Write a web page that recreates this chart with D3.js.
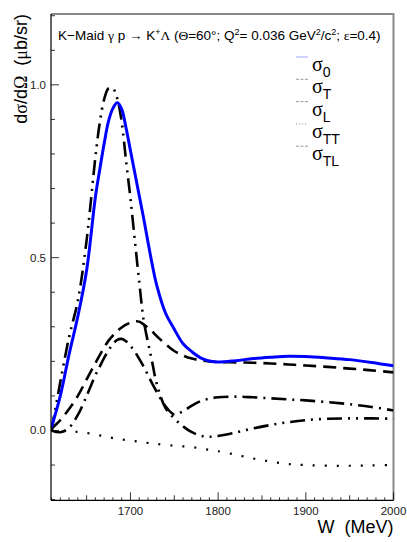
<!DOCTYPE html>
<html>
<head>
<meta charset="utf-8">
<script src="https://cdn.jsdelivr.net/npm/d3@7"></script>
<style>
  body { margin: 0; background: #fff; }
  text { font-family: "Liberation Sans", Arial, sans-serif; }
  .greek { font-family: "Liberation Serif", "DejaVu Serif", serif; }
</style>
</head>
<body>
<div id="chart"></div>
<script>
// W grid (MeV) shared by all curves
const W = [1610, 1620, 1630, 1640, 1650, 1660, 1665, 1670, 1675, 1680, 1685, 1690, 1695, 1700,
  1705, 1710, 1715, 1720, 1725, 1730, 1740, 1750, 1760, 1770, 1780, 1790, 1800,
  1820, 1840, 1860, 1880, 1900, 1925, 1950, 1975, 2000];

const sigma0 = [0.01, 0.10, 0.22, 0.33, 0.463, 0.675, 0.755, 0.83, 0.895, 0.932, 0.948, 0.93, 0.875, 0.81,
  0.745, 0.68, 0.615, 0.545, 0.478, 0.42, 0.34, 0.293, 0.251, 0.228, 0.21, 0.201, 0.198,
  0.202, 0.208, 0.212, 0.215, 0.214, 0.21, 0.205, 0.197, 0.187];

const sigmaT = [0.005, 0.03, 0.062, 0.1, 0.148, 0.195, 0.218, 0.24, 0.26, 0.275, 0.288, 0.298, 0.306, 0.312,
  0.316, 0.315, 0.307, 0.297, 0.286, 0.273, 0.25, 0.23, 0.217, 0.208, 0.203, 0.2, 0.198,
  0.197, 0.196, 0.194, 0.191, 0.188, 0.184, 0.179, 0.174, 0.168];

const sigmaL = [0.0, -0.005, 0.008, 0.045, 0.1, 0.16, 0.185, 0.21, 0.232, 0.25, 0.262, 0.265, 0.258, 0.245,
  0.228, 0.207, 0.185, 0.16, 0.135, 0.112, 0.07, 0.046, 0.056, 0.072, 0.085, 0.092, 0.096,
  0.098, 0.096, 0.093, 0.09, 0.087, 0.082, 0.076, 0.068, 0.058];

const sigmaTT = [0.0, -0.001, -0.003, -0.004, -0.007, -0.012, -0.014, -0.017, -0.019, -0.022, -0.024, -0.026, -0.028, -0.03,
  -0.031, -0.033, -0.035, -0.036, -0.038, -0.039, -0.042, -0.044, -0.046, -0.048, -0.052, -0.056, -0.06,
  -0.07, -0.081, -0.09, -0.097, -0.1, -0.102, -0.102, -0.101, -0.1];

const sigmaTL = [0.0, 0.14, 0.27, 0.375, 0.55, 0.79, 0.89, 0.958, 0.99, 0.99, 0.96, 0.893, 0.78, 0.672,
  0.55, 0.43, 0.32, 0.255, 0.195, 0.135, 0.065, 0.035, 0.012, -0.005, -0.015, -0.018, -0.016,
  -0.006, 0.006, 0.016, 0.024, 0.03, 0.034, 0.035, 0.035, 0.034];

const seriesNames = ["0", "T", "L", "TT", "TL"];
const xTicks = [1700, 1800, 1900, 2000];
const yTicks = [0.0, 0.5, 1.0];

const width = 407, height = 542;
const margin = {top: 14, right: 13.5, bottom: 41.7, left: 51};

const svg = d3.select("#chart").append("svg")
    .attr("width", width)
    .attr("height", height);

const x = d3.scaleLinear()
    .domain([1609.4, 2000])
    .range([margin.left, width - margin.right]);

const y = d3.scaleLinear()
    .domain([-0.202, 1.205])
    .range([height - margin.bottom, margin.top]);

const styles = [
  {data: sigma0, color: "#0000ff", width: 3, dash: null},
  {data: sigmaT, color: "#000", width: 2.6, dash: "13,7"},
  {data: sigmaL, color: "#000", width: 2.6, dash: "15,6,2,6"},
  {data: sigmaTT, color: "#000", width: 2.2, dash: "2,10"},
  {data: sigmaTL, color: "#000", width: 2.6, dash: "15,6,2,6,2,6"}
];

svg.append("clipPath").attr("id", "frame")
  .append("rect")
    .attr("x", margin.left)
    .attr("y", margin.top)
    .attr("width", width - margin.left - margin.right)
    .attr("height", height - margin.top - margin.bottom);

// frame (top and right edges are grey)
svg.append("path")
    .attr("d", `M${x(1609.4)},${y(1.205)}H${x(2000)}V${y(-0.202)}`)
    .attr("fill", "none")
    .attr("stroke", "#8a8a8a")
    .attr("stroke-width", 2);

const line = d3.line()
    .x(d => x(d[0]))
    .y(d => y(d[1]))
    .curve(d3.curveCatmullRom);

// draw in reverse so the blue curve ends up on top
const curves = svg.append("g").attr("clip-path", "url(#frame)");
styles.slice().reverse().forEach(s => {
  curves.append("path")
      .datum(W.map((w, i) => [w, s.data[i]]))
      .attr("d", line)
      .attr("fill", "none")
      .attr("stroke", s.color)
      .attr("stroke-width", s.width)
      .attr("stroke-dasharray", s.dash);
});

// x axis, ticks drawn inside the frame
const xAxis = svg.append("g");
xAxis.append("line")
    .attr("x1", margin.left).attr("x2", width - margin.right)
    .attr("y1", y(-0.202)).attr("y2", y(-0.202))
    .attr("stroke", "#000").attr("stroke-width", 1.2);
d3.range(1610, 2001, 10).forEach(w => {
  let len = w % 100 === 0 ? 8 : (w % 50 === 0 ? 5 : 3);
  xAxis.append("line")
      .attr("x1", x(w)).attr("x2", x(w))
      .attr("y1", y(-0.202)).attr("y2", y(-0.202) - len)
      .attr("stroke", "#000").attr("stroke-width", 0.8);
});
xAxis.selectAll("text.tick")
    .data(xTicks)
    .enter().append("text")
    .attr("class", "tick")
    .attr("x", d => x(d))
    .attr("y", y(-0.202) + 15)
    .attr("text-anchor", "middle")
    .style("font-size", "11.5px")
    .style("fill", "#222")
    .text(d => d);

// y axis
const yAxis = svg.append("g");
yAxis.append("line")
    .attr("x1", margin.left).attr("x2", margin.left)
    .attr("y1", margin.top).attr("y2", height - margin.bottom)
    .attr("stroke", "#000").attr("stroke-width", 1.2);
d3.range(-2, 13).forEach(k => {
  let v = k / 10;
  let len = k % 5 === 0 ? 8 : 4;
  yAxis.append("line")
      .attr("x1", margin.left).attr("x2", margin.left + len)
      .attr("y1", y(v)).attr("y2", y(v))
      .attr("stroke", "#000").attr("stroke-width", 0.8);
});
yAxis.selectAll("text.tick")
    .data(yTicks)
    .enter().append("text")
    .attr("class", "tick")
    .attr("x", margin.left - 5)
    .attr("y", d => y(d) + 4)
    .attr("text-anchor", "end")
    .style("font-size", "11.5px")
    .style("fill", "#222")
    .text(d => d.toFixed(1));

// axis titles
svg.append("text")
    .attr("x", width - margin.right)
    .attr("y", 533)
    .attr("text-anchor", "end")
    .style("font-size", "18px")
    .text("W\u00a0\u00a0(MeV)");

const yTitle = svg.append("text")
    .attr("transform", `translate(27,${margin.top}) rotate(-90)`)
    .attr("text-anchor", "end")
    .style("font-size", "18px");
yTitle.append("tspan").text("d");
yTitle.append("tspan").attr("class", "greek").text("σ");
yTitle.append("tspan").text("/d");
yTitle.append("tspan").attr("class", "greek").text("Ω");
yTitle.append("tspan").text("\u00a0\u00a0(");
yTitle.append("tspan").attr("class", "greek").text("μ");
yTitle.append("tspan").text("b/sr)");

// title
const title = svg.append("text")
    .attr("x", 58)
    .attr("y", 40)
    .style("font-size", "13.5px");
title.append("tspan").text("K\u2212Maid ");
title.append("tspan").attr("class", "greek").text("γ");
title.append("tspan").text(" p ");
title.append("tspan").attr("class", "greek").text("→");
title.append("tspan").text(" K");
title.append("tspan").attr("dy", -5).style("font-size", "9px").text("+");
title.append("tspan").attr("dy", 5).attr("class", "greek").text("Λ");
title.append("tspan").text(" (");
title.append("tspan").attr("class", "greek").text("Θ");
title.append("tspan").text("=60°; Q");
title.append("tspan").attr("dy", -5).style("font-size", "9px").text("2");
title.append("tspan").attr("dy", 5).text("= 0.036 GeV");
title.append("tspan").attr("dy", -5).style("font-size", "9px").text("2");
title.append("tspan").attr("dy", 5).text("/c");
title.append("tspan").attr("dy", -5).style("font-size", "9px").text("2");
title.append("tspan").attr("dy", 5).text("; ");
title.append("tspan").attr("class", "greek").text("ε");
title.append("tspan").text("=0.4)");

// legend
const legend = svg.append("g");
seriesNames.forEach((name, i) => {
  let yy = 57 + i * 22.3;
  legend.append("line")
      .attr("x1", 296).attr("x2", 308)
      .attr("y1", yy).attr("y2", yy)
      .attr("stroke", i === 0 ? "#9fa6ff" : "#9a9a9a")
      .attr("stroke-width", 1)
      .attr("stroke-dasharray", i === 0 ? null : (i === 3 ? "1,2" : "3,1.5"));
  let t = legend.append("text")
      .attr("x", 312)
      .attr("y", yy + 14)
      .style("font-size", "20px");
  t.append("tspan").attr("class", "greek").text("σ");
  t.append("tspan").attr("dy", 6).style("font-size", "14px").text(name);
});
</script>
</body>
</html>
